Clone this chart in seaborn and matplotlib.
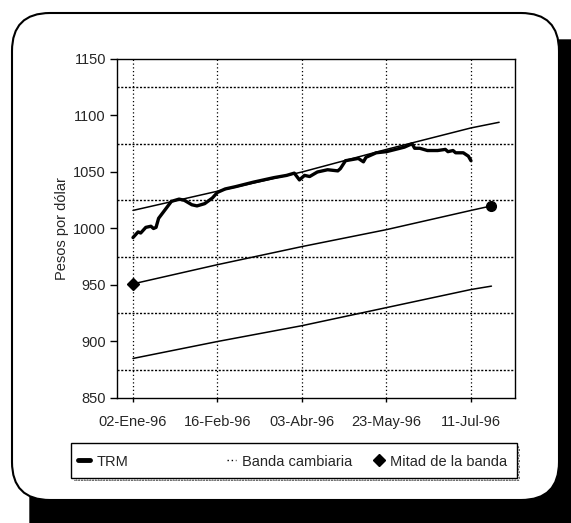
import matplotlib
matplotlib.use("Agg")
import matplotlib.pyplot as plt
import seaborn as sns
from matplotlib.lines import Line2D
from matplotlib.patches import FancyBboxPatch, Rectangle
from matplotlib.transforms import IdentityTransform

# Datos (índice de observación, pesos por dólar)
trm_dia = [0, 2, 3, 5, 7, 8, 9, 10, 12, 15, 18, 20, 23, 25, 28, 31, 33, 36, 40, 47, 55, 60,
           63, 65, 67, 69, 72, 76, 80, 81, 83, 88, 90, 91, 95, 99, 106, 109, 110, 112,
           115, 119, 122, 123, 125, 126, 129, 131, 132]
trm = [992, 997, 996, 1001, 1002, 1000, 1001, 1009, 1015, 1024, 1026, 1025, 1021, 1020, 1022,
       1027, 1032, 1035, 1037, 1041, 1045, 1047, 1049, 1043, 1047, 1046, 1050, 1052, 1051,
       1053, 1060, 1062, 1059, 1063, 1067, 1068, 1072, 1075, 1071, 1071, 1069, 1069, 1070,
       1068, 1069, 1067, 1067, 1064, 1060]

techo_dia = [0, 33, 66, 99, 132, 143]
techo = [1016, 1033, 1050, 1070, 1089, 1094]
banda_dia = [0, 33, 66, 99, 132, 140]
mitad = [951, 968, 984, 999, 1016, 1020]
piso = [885, 900, 914, 930, 946, 949]

fechas = ["02-Ene-96", "16-Feb-96", "03-Abr-96", "23-May-96", "11-Jul-96"]
fechas_pos = [0, 33, 66, 99, 132]

sns.set_theme(style="ticks")
plt.rcParams['font.family'] = ['Liberation Sans', 'DejaVu Sans']

fig = plt.figure(figsize=(5.71, 5.23), dpi=100)
fig.patch.set_facecolor("white")

# Marco redondeado con sombra (en píxeles)
sombra = FancyBboxPatch((30, -40), 600, 523, boxstyle="round,pad=0,rounding_size=38",
                        transform=IdentityTransform(), facecolor="black", edgecolor="black",
                        zorder=-20)
marco = FancyBboxPatch((12, 23), 547, 487, boxstyle="round,pad=0,rounding_size=38",
                       transform=IdentityTransform(), facecolor="white", edgecolor="black",
                       linewidth=1.5, zorder=-10)
fig.add_artist(sombra)
fig.add_artist(marco)

ax = fig.add_axes([117 / 571, 1 - 398 / 523, 398 / 571, 339 / 523])

sns.lineplot(x=techo_dia, y=techo, ax=ax, color="black", linewidth=1.1)
sns.lineplot(x=banda_dia, y=piso, ax=ax, color="black", linewidth=1.1)
sns.lineplot(x=banda_dia, y=mitad, ax=ax, color="black", linewidth=1.1)
sns.lineplot(x=trm_dia, y=trm, ax=ax, color="black", linewidth=2.4)
ax.plot(banda_dia[0], mitad[0], marker="D", color="black", markersize=6, linestyle="none")
ax.plot(banda_dia[-1], mitad[-1], marker="o", color="black", markersize=7, linestyle="none")

ax.set_xlim(-6.25, 149.2)
ax.set_ylim(850, 1150)
ax.set_xticks(fechas_pos)
ax.set_xticklabels(fechas)
ax.set_yticks(range(850, 1151, 50))
ax.set_yticks(range(875, 1150, 50), minor=True)
ax.tick_params(axis="y", which="major", direction="out", length=5, width=1, color="black",
               labelsize=10.5, pad=3)
ax.tick_params(axis="y", which="minor", length=0)
ax.tick_params(axis="x", direction="out", length=3, width=1, color="black", labelsize=10.5, pad=9)
ax.grid(axis="x", which="major", color="black", linestyle=(0, (1, 2)), linewidth=0.9)
ax.grid(axis="y", which="minor", color="black", linestyle=(0, (1.5, 1.2)), linewidth=1.0)
for s in ax.spines.values():
    s.set_color("black")
    s.set_linewidth(1)
ax.set_xlabel("")
ax.set_ylabel("Pesos por dólar", fontsize=10.5)
ax.yaxis.set_label_coords(-0.12, 0.5)

# Leyenda: marco con sombra punteada y tres entradas
sombra_ley = Rectangle((74, 523 - 481), 446, 35, transform=IdentityTransform(),
                       facecolor="white", edgecolor="#333333", hatch="......", linewidth=0,
                       zorder=3)
caja_ley = Rectangle((71, 523 - 478), 446, 35, transform=IdentityTransform(),
                     facecolor="white", edgecolor="black", linewidth=1, zorder=4)
fig.add_artist(sombra_ley)
fig.add_artist(caja_ley)

entradas = [
    (Line2D([], [], color="black", linewidth=3.5), "TRM", 75, 0.8),
    (Line2D([], [], color="black", linewidth=1, linestyle=(0, (1, 2))), "Banda cambiaria", 224, 0.6),
    (Line2D([], [], color="black", marker="D", markersize=6, linestyle="none"), "Mitad de la banda", 372, 0.6),
]
for manija, texto, xpix, largo in entradas:
    ley = fig.legend([manija], [texto], loc="center left",
                     bbox_to_anchor=(xpix / 571, 1 - 461.5 / 523),
                     frameon=False, fontsize=10.5, handlelength=largo, handletextpad=0.45,
                     borderaxespad=0, borderpad=0.2)
    ley.set_zorder(5)

fig.savefig("out.png", dpi=100)
